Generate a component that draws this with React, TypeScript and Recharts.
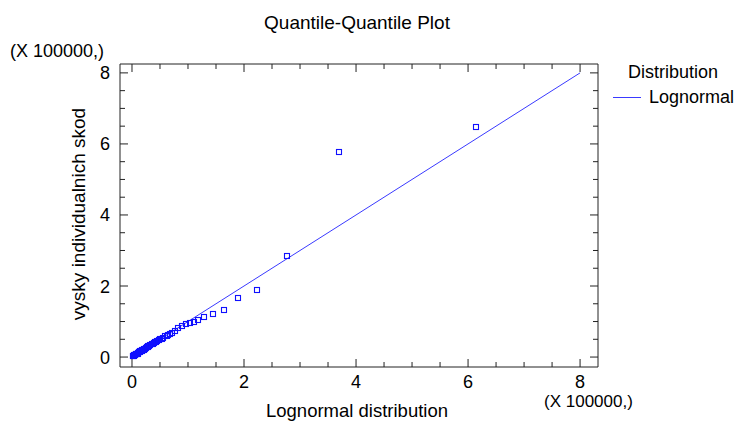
import React from "react";
import { ScatterChart, Scatter, XAxis, YAxis } from "recharts";

// Theoretical (lognormal) quantiles, in units of 100000
const theoreticalQuantiles = [
  0.01, 0.02, 0.03, 0.04, 0.05, 0.06, 0.07, 0.08, 0.09, 0.1, 0.11, 0.12, 0.13,
  0.14, 0.15, 0.16, 0.17, 0.18, 0.19, 0.21, 0.22, 0.23, 0.25, 0.26, 0.28, 0.29,
  0.31, 0.33, 0.35, 0.37, 0.39, 0.41, 0.43, 0.45, 0.48, 0.5, 0.53, 0.56, 0.59,
  0.62, 0.65, 0.68, 0.72, 0.77, 0.83, 0.89, 0.96, 1.03, 1.1, 1.18, 1.28, 1.45,
  1.64, 1.89, 2.24, 2.76, 3.7, 6.14,
];
// Observed sample quantiles ("vysky individualnich skod"), in units of 100000
const sampleQuantiles = [
  0.02, 0.03, 0.03, 0.05, 0.06, 0.06, 0.08, 0.09, 0.1, 0.1, 0.12, 0.13, 0.13,
  0.15, 0.16, 0.17, 0.17, 0.19, 0.2, 0.21, 0.23, 0.24, 0.25, 0.27, 0.28, 0.3,
  0.31, 0.33, 0.36, 0.37, 0.39, 0.42, 0.43, 0.45, 0.47, 0.5, 0.52, 0.55, 0.58,
  0.6, 0.63, 0.66, 0.69, 0.74, 0.81, 0.87, 0.92, 0.95, 0.98, 1.03, 1.13, 1.21,
  1.33, 1.65, 1.9, 2.85, 5.77, 6.49,
];
// Reference line (fitted lognormal)
const fitLineX = [0, 8];
const fitLineY = [0, 8];

const allTicks = [0, 0.5, 1, 1.5, 2, 2.5, 3, 3.5, 4, 4.5, 5, 5.5, 6, 6.5, 7, 7.5, 8];
const majorTicks = [0, 2, 4, 6, 8];
const xDomain = [-0.214, 8.32];
const yDomain = [-0.28, 8.25];

const points = theoreticalQuantiles.map((x, i) => ({ x, y: sampleQuantiles[i] }));
const fitLine = fitLineX.map((x, i) => ({ x, y: fitLineY[i] }));

const FONT = "'Liberation Sans', Arial, sans-serif";
const AXIS_COLOR = "#222";
const POINT_COLOR = "#1010ff";
const LINE_COLOR = "#3a3aff";

const isMajor = (v: number) => majorTicks.includes(v);

const BottomTick = (props: any) => {
  const { x, y, payload } = props;
  const v = payload.value;
  const len = isMajor(v) ? 8 : 5;
  return (
    <g>
      <line x1={x} y1={y} x2={x} y2={y - len} stroke={AXIS_COLOR} strokeWidth={1} />
      {isMajor(v) && (
        <text x={x} y={y + 21} textAnchor="middle" fontFamily={FONT} fontSize={18} fill="#000">
          {v}
        </text>
      )}
    </g>
  );
};

const TopTick = (props: any) => {
  const { x, y, payload } = props;
  const len = isMajor(payload.value) ? 8 : 5;
  return <line x1={x} y1={y} x2={x} y2={y + len} stroke={AXIS_COLOR} strokeWidth={1} />;
};

const LeftTick = (props: any) => {
  const { x, y, payload } = props;
  const v = payload.value;
  const len = isMajor(v) ? 8 : 5;
  return (
    <g>
      <line x1={x} y1={y} x2={x + len} y2={y} stroke={AXIS_COLOR} strokeWidth={1} />
      {isMajor(v) && (
        <text x={x - 10} y={y + 6.5} textAnchor="end" fontFamily={FONT} fontSize={18} fill="#000">
          {v}
        </text>
      )}
    </g>
  );
};

const RightTick = (props: any) => {
  const { x, y, payload } = props;
  const len = isMajor(payload.value) ? 8 : 5;
  return <line x1={x} y1={y} x2={x - len} y2={y} stroke={AXIS_COLOR} strokeWidth={1} />;
};

const SquareShape = (props: any) => {
  const { cx, cy } = props;
  if (cx == null || cy == null) return <g />;
  return (
    <rect
      x={Math.round(cx) - 2.5}
      y={Math.round(cy) - 2.5}
      width={5}
      height={5}
      fill="none"
      stroke={POINT_COLOR}
      strokeWidth={1.1}
    />
  );
};

const NoShape = () => <g />;

export default function App() {
  return (
    <div style={{ position: "absolute", left: 0, top: 0, width: 740, height: 423, background: "#fff" }}>
      <ScatterChart
        width={740}
        height={423}
        margin={{ top: 44, right: 102, bottom: 26, left: 60 }}
      >
        <XAxis
          xAxisId="b"
          type="number"
          dataKey="x"
          domain={xDomain}
          ticks={allTicks}
          interval={0}
          allowDataOverflow
          height={30}
          tickSize={0}
          tickMargin={0}
          tickLine={false}
          axisLine={{ stroke: AXIS_COLOR }}
          tick={<BottomTick />}
        />
        <XAxis
          xAxisId="t"
          orientation="top"
          type="number"
          dataKey="x"
          domain={xDomain}
          ticks={allTicks}
          interval={0}
          allowDataOverflow
          height={20}
          tickSize={0}
          tickMargin={0}
          tickLine={false}
          axisLine={{ stroke: AXIS_COLOR }}
          tick={<TopTick />}
        />
        <YAxis
          yAxisId="l"
          type="number"
          dataKey="y"
          domain={yDomain}
          ticks={allTicks}
          interval={0}
          allowDataOverflow
          width={60}
          tickSize={0}
          tickMargin={0}
          tickLine={false}
          axisLine={{ stroke: AXIS_COLOR }}
          tick={<LeftTick />}
        />
        <YAxis
          yAxisId="r"
          orientation="right"
          type="number"
          dataKey="y"
          domain={yDomain}
          ticks={allTicks}
          interval={0}
          allowDataOverflow
          width={40}
          tickSize={0}
          tickMargin={0}
          tickLine={false}
          axisLine={{ stroke: AXIS_COLOR }}
          tick={<RightTick />}
        />
        <Scatter
          xAxisId="b"
          yAxisId="l"
          data={fitLine}
          line={{ stroke: LINE_COLOR, strokeWidth: 1 }}
          shape={<NoShape />}
          isAnimationActive={false}
          legendType="none"
        />
        <Scatter
          xAxisId="b"
          yAxisId="l"
          data={points}
          shape={<SquareShape />}
          isAnimationActive={false}
        />
      </ScatterChart>
      <svg
        width={740}
        height={423}
        style={{ position: "absolute", left: 0, top: 0, pointerEvents: "none" }}
      >
        <text x={357} y={29} textAnchor="middle" fontFamily={FONT} fontSize={19} fill="#000">
          Quantile-Quantile Plot
        </text>
        <text x={10} y={57} fontFamily={FONT} fontSize={18} fill="#000">
          (X 100000,)
        </text>
        <text
          transform="translate(85,214) rotate(-90)"
          textAnchor="middle"
          fontFamily={FONT}
          fontSize={19}
          fill="#000"
        >
          vysky individualnich skod
        </text>
        <text x={357} y={417} textAnchor="middle" fontFamily={FONT} fontSize={18.5} fill="#000">
          Lognormal distribution
        </text>
        <text x={544} y={407} fontFamily={FONT} fontSize={17} fill="#000">
          (X 100000,)
        </text>
        <text x={628} y={78} fontFamily={FONT} fontSize={18} fill="#000">
          Distribution
        </text>
        <line x1={613} y1={97.5} x2={641} y2={97.5} stroke={LINE_COLOR} strokeWidth={1} />
        <text x={649} y={103} fontFamily={FONT} fontSize={18} fill="#000">
          Lognormal
        </text>
      </svg>
    </div>
  );
}
